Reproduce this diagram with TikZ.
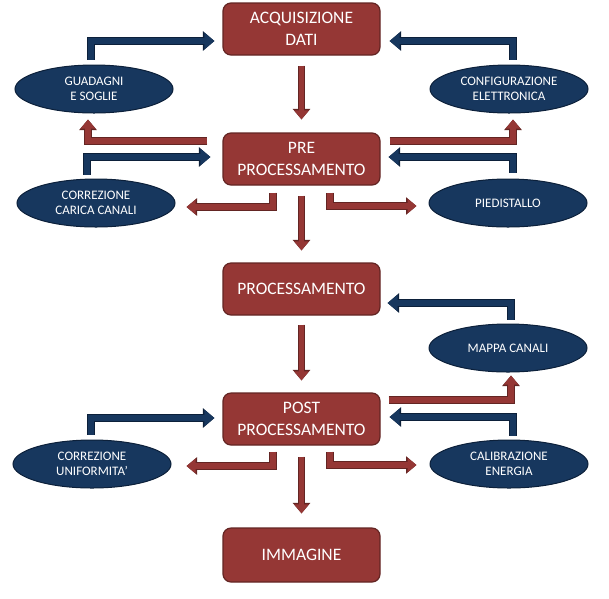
\documentclass[tikz,border=0pt]{standalone}
\usepackage{fontspec}
\setmainfont{Carlito}
\usetikzlibrary{arrows.meta,shapes.geometric}
\definecolor{rbox}{RGB}{149,55,53}
\definecolor{rline}{RGB}{99,37,35}
\definecolor{bfill}{RGB}{23,55,94}
\definecolor{bline}{RGB}{12,32,58}
\begin{document}
\begin{tikzpicture}[x=1pt,y=-1pt,
  procbox/.style={draw=rline, line width=1.2pt, fill=rbox, rounded corners=8pt,
    minimum width=157pt, minimum height=52pt, text=white, align=center,
    font=\fontsize{17.5}{22}\selectfont, inner sep=0pt},
  param/.style={ellipse, draw=bline, line width=1pt, fill=bfill,
    minimum width=158pt, minimum height=48pt, text=white, align=center,
    font=\fontsize{13}{15.5}\selectfont, inner sep=0pt},
  barrow/.style={draw=bfill, line width=6.5pt, line join=miter,
    -{Triangle[length=10pt,width=16pt]},
    preaction={draw=bline, line width=8.5pt, line join=miter,
      -{Triangle[length=11.5pt,width=19pt]}}},
  rarrow/.style={draw=rbox, line width=5.5pt, line join=miter,
    -{Triangle[length=9pt,width=14pt]},
    preaction={draw=rline, line width=7.5pt, line join=miter,
      -{Triangle[length=10.5pt,width=17pt]}}}
]
\useasboundingbox (0,0) rectangle (609,598);

% process boxes
\node[procbox] (acq)  at (301.5,29)  {ACQUISIZIONE\\DATI};
\node[procbox] (pre)  at (301.5,159) {PRE\\PROCESSAMENTO};
\node[procbox] (proc) at (301.5,289) {PROCESSAMENTO};
\node[procbox] (post) at (301.5,419) {POST\\PROCESSAMENTO};
\node[procbox, minimum height=54pt] (imm) at (301.5,555) {IMMAGINE};

% parameter ellipses
\node[param] (guad)  at (94,89)   {GUADAGNI\\E SOGLIE};
\node[param] (conf)  at (509,89)  {CONFIGURAZIONE\\ELETTRONICA};
\node[param] (corrc) at (96,203)  {CORREZIONE\\CARICA CANALI};
\node[param] (pied)  at (508,203) {PIEDISTALLO};
\node[param] (mappa) at (508,348) {MAPPA CANALI};
\node[param] (corru) at (92,464)  {CORREZIONE\\UNIFORMITA’};
\node[param] (calib) at (509,464) {CALIBRAZIONE\\ENERGIA};

% blue inputs
\draw[barrow, shorten <=5pt, shorten >=8pt] ([xshift=-3pt]guad.north) |- ([yshift=-12pt]acq.west);
\draw[barrow, shorten <=5pt, shorten >=9pt] ([xshift=4pt]conf.north) |- ([yshift=-12pt]acq.east);
\draw[barrow, shorten <=4pt, shorten >=12pt] ([xshift=-9pt]corrc.north) |- ([yshift=2pt]pre.west);
\draw[barrow, shorten <=6pt, shorten >=8pt] ([xshift=5pt]pied.north) |- ([yshift=2pt]pre.east);
\draw[barrow, shorten <=4pt, shorten >=7pt] ([xshift=3pt]mappa.north) |- ([yshift=-14pt]proc.east);
\draw[barrow, shorten <=5pt, shorten >=8pt] ([xshift=-1pt]corru.north) |- ([yshift=1pt]post.west);
\draw[barrow, shorten <=4pt, shorten >=9pt] ([xshift=4pt]calib.north) |- ([yshift=2pt]post.east);

% red main flow
\draw[rarrow, shorten <=10pt, shorten >=13pt] (acq) -- (pre);
\draw[rarrow, shorten <=10pt, shorten >=12pt] (pre) -- (proc);
\draw[rarrow, shorten <=9pt, shorten >=12pt] (proc) -- (post);
\draw[rarrow, shorten <=11pt, shorten >=14pt] (post) -- (imm);

% red outputs
\draw[rarrow, shorten <=15pt, shorten >=6pt] ([yshift=18pt]pre.west) -| ([xshift=-6pt]guad.south);
\draw[rarrow, shorten <=9pt, shorten >=6pt] ([yshift=18pt]pre.east) -| ([xshift=4pt]conf.south);
\draw[rarrow, shorten <=7pt, shorten >=11pt] ([xshift=-28.5pt]pre.south) |- ([yshift=-4pt]corrc.east);
\draw[rarrow, shorten <=7pt, shorten >=12pt] ([xshift=28.5pt]pre.south) |- ([yshift=-3pt]pied.west);
\draw[rarrow, shorten <=8pt, shorten >=3pt] ([yshift=19pt]post.east) -| ([xshift=3pt]mappa.south);
\draw[rarrow, shorten <=6pt, shorten >=15pt] ([xshift=-28.5pt]post.south) |- ([yshift=-2pt]corru.east);
\draw[rarrow, shorten <=6pt, shorten >=13pt] ([xshift=28.5pt]post.south) |- ([yshift=-1pt]calib.west);
\end{tikzpicture}
\end{document}
